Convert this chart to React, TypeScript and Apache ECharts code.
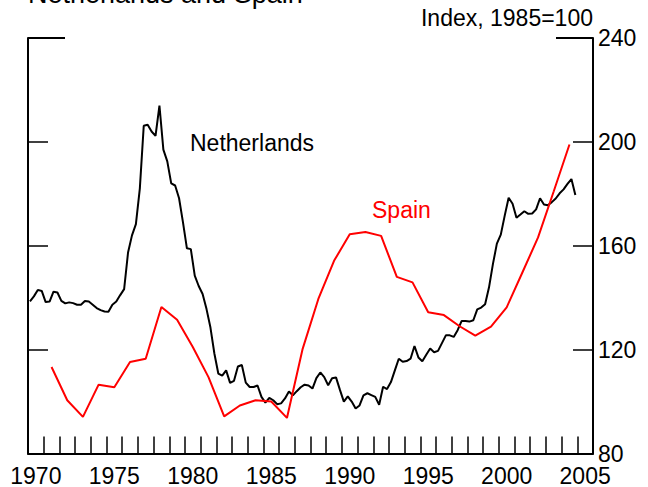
import React, { useEffect, useRef } from "react";
import * as echarts from "echarts";

// Year categories for the bottom axis (ticks at year boundaries, labels mid-year)
const yearCategories = [
  "1970", "1971", "1972", "1973", "1974", "1975", "1976", "1977", "1978", "1979",
  "1980", "1981", "1982", "1983", "1984", "1985", "1986", "1987", "1988", "1989",
  "1990", "1991", "1992", "1993", "1994", "1995", "1996", "1997", "1998", "1999",
  "2000", "2001", "2002", "2003", "2004", "2005",
];

// Netherlands: quarterly index, 1970Q1 .. 2004Q4
const netherlandsFirstYear = 1970;
const netherlandsQuarterly = [
  138.6, 140.5, 143.0, 142.6, 138.3, 138.5, 142.3, 142.0,
  138.8, 137.8, 138.2, 137.9, 137.3, 137.3, 138.7, 138.5,
  137.3, 136.0, 135.2, 134.7, 134.6, 137.3, 138.5, 141.0,
  143.3, 157.4, 164.0, 168.3, 182.0, 206.2, 206.6, 204.0,
  202.3, 214.0, 197.0, 192.5, 184.0, 183.2, 178.3, 169.0,
  159.0, 158.7, 148.5, 144.5, 141.4, 135.6, 128.5, 118.5,
  110.8, 110.0, 112.0, 107.2, 108.0, 113.5, 114.1, 107.3,
  105.6, 105.6, 106.2, 101.8, 99.6, 101.4, 100.5, 99.0,
  99.3, 101.2, 103.9, 102.4, 104.0, 105.5, 106.5, 106.2,
  105.0, 109.0, 111.2, 109.4, 106.3, 109.0, 109.3, 104.5,
  100.0, 102.0, 100.0, 97.3, 98.5, 102.4, 103.2, 102.5,
  101.8, 98.8, 105.7, 104.8, 107.5, 112.0, 116.5, 115.3,
  115.6, 116.5, 121.4, 117.0, 115.5, 118.0, 120.4, 119.0,
  119.5, 122.5, 125.5, 125.5, 124.9, 127.5, 131.0, 131.0,
  130.8, 131.3, 135.5, 136.2, 137.5, 144.0, 153.0, 160.8,
  164.3, 171.6, 178.5, 176.2, 170.8, 172.0, 173.3, 172.3,
  172.4, 174.0, 178.3, 175.9, 175.6, 176.8, 178.2, 180.2,
  181.7, 183.8, 185.7, 179.5,
];

// Spain: annual index
const spainYears = [
  1971, 1972, 1973, 1974, 1975, 1976, 1977, 1978, 1979, 1980,
  1981, 1982, 1983, 1984, 1985, 1986, 1987, 1988, 1989, 1990,
  1991, 1992, 1993, 1994, 1995, 1996, 1997, 1998, 1999, 2000,
  2001, 2002, 2003, 2004,
];
const spainValues = [
  113.3, 100.5, 94.1, 106.5, 105.5, 115.2, 116.5, 136.4, 131.5, 121.0,
  109.4, 94.3, 98.5, 100.5, 100.0, 93.7, 120.3, 139.5, 154.2, 164.4,
  165.3, 163.8, 148.0, 145.9, 134.4, 133.3, 129.0, 125.4, 128.9, 136.3,
  149.7, 163.2, 181.0, 199.0,
];

const yMin = 80;
const yMax = 240;
const yStep = 40;

const FONT = "Liberation Sans, Arial, sans-serif";
const FS = 23;

export default function App() {
  const ref = useRef<HTMLDivElement>(null);

  useEffect(() => {
    if (!ref.current) return;
    const chart = echarts.init(ref.current, null, { renderer: "svg" });

    const gridLeft = 28;
    const gridRight = 55;
    const gridTop = 38;
    const gridBottom = 32;
    const W = 648;

    const nlData = netherlandsQuarterly.map((v, k) => [
      netherlandsFirstYear + 0.125 + k / 4,
      v,
    ]);
    const esData = spainYears.map((y, i) => [y + 0.5, spainValues[i]]);

    chart.setOption({
      animation: false,
      backgroundColor: "#ffffff",
      textStyle: { fontFamily: FONT },
      grid: {
        left: gridLeft,
        right: gridRight,
        top: gridTop,
        bottom: gridBottom,
        containLabel: false,
      },
      xAxis: [
        {
          type: "category",
          data: yearCategories,
          boundaryGap: true,
          position: "bottom",
          axisLine: { show: true, lineStyle: { color: "#000", width: 2 } },
          axisTick: {
            show: true,
            inside: true,
            length: 17,
            interval: 0,
            lineStyle: { color: "#000", width: 1.5 },
          },
          axisLabel: {
            show: true,
            interval: 4,
            color: "#000",
            fontSize: FS,
            lineHeight: 20,
            fontFamily: FONT,
            margin: 12,
          },
          splitLine: { show: false },
        },
        {
          type: "value",
          min: 1970,
          max: 2006,
          show: false,
        },
      ],
      yAxis: [
        {
          type: "value",
          position: "left",
          min: yMin,
          max: yMax,
          interval: yStep,
          axisLine: { show: true, lineStyle: { color: "#000", width: 2 } },
          axisTick: {
            show: true,
            inside: true,
            length: 20,
            lineStyle: { color: "#000", width: 1.5 },
          },
          axisLabel: { show: false },
          splitLine: { show: false },
        },
        {
          type: "value",
          position: "right",
          min: yMin,
          max: yMax,
          interval: yStep,
          axisLine: { show: true, lineStyle: { color: "#000", width: 2 } },
          axisTick: {
            show: true,
            inside: true,
            length: 20,
            lineStyle: { color: "#000", width: 1.5 },
          },
          axisLabel: {
            show: true,
            color: "#000",
            fontSize: FS,
            lineHeight: 18,
            fontFamily: FONT,
            margin: 5,
          },
          splitLine: { show: false },
        },
      ],
      series: [
        {
          name: "Netherlands",
          type: "line",
          xAxisIndex: 1,
          yAxisIndex: 0,
          data: nlData,
          symbol: "none",
          lineStyle: { color: "#000000", width: 2 },
          z: 3,
        },
        {
          name: "Spain",
          type: "line",
          xAxisIndex: 1,
          yAxisIndex: 0,
          data: esData,
          symbol: "none",
          lineStyle: { color: "#ff0000", width: 2 },
          z: 4,
        },
      ],
      graphic: [
        {
          type: "text",
          left: 28,
          top: -20,
          style: {
            text: "Netherlands and Spain",
            fontSize: 27,
            fontFamily: FONT,
            fill: "#000",
          },
        },
        {
          type: "text",
          x: W - gridRight,
          y: 18,
          style: {
            text: "Index, 1985=100",
            fontSize: FS,
            fontFamily: FONT,
            fill: "#000",
            align: "right",
            verticalAlign: "middle",
          },
        },
        {
          type: "text",
          x: 190,
          y: 143,
          style: {
            text: "Netherlands",
            fontSize: FS,
            fontFamily: FONT,
            fill: "#000",
            align: "left",
            verticalAlign: "middle",
          },
        },
        {
          type: "text",
          x: 372,
          y: 210,
          style: {
            text: "Spain",
            fontSize: FS,
            fontFamily: FONT,
            fill: "#ff0000",
            align: "left",
            verticalAlign: "middle",
          },
        },
        {
          type: "line",
          shape: { x1: gridLeft, y1: gridTop, x2: gridLeft + 37, y2: gridTop },
          style: { stroke: "#000", lineWidth: 2 },
        },
        {
          type: "line",
          shape: { x1: W - gridRight - 37, y1: gridTop, x2: W - gridRight, y2: gridTop },
          style: { stroke: "#000", lineWidth: 2 },
        },
      ],
    });

    return () => chart.dispose();
  }, []);

  return (
    <div
      ref={ref}
      style={{ position: "absolute", left: 0, top: 0, width: 648, height: 487 }}
    />
  );
}
